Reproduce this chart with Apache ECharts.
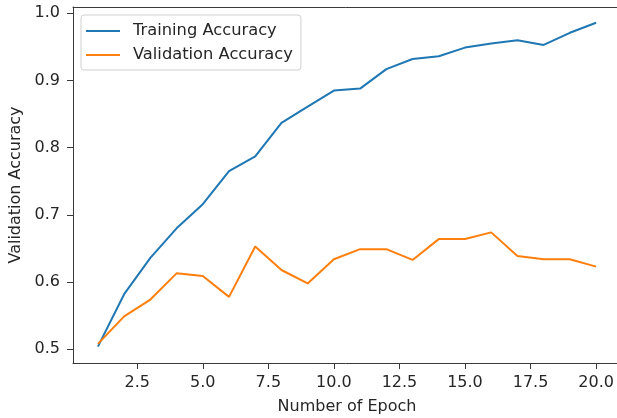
<!DOCTYPE html>
<html>
<head>
<meta charset="utf-8">
<script src="https://cdn.jsdelivr.net/npm/echarts@6/dist/echarts.min.js"></script>
<style>
  html, body { margin: 0; padding: 0; background: #fff; }
  #chart { width: 617px; height: 418px; }
</style>
</head>
<body>
<div id="chart"></div>
<script>
// Epoch numbers and per-epoch accuracies
const epochs = [1, 2, 3, 4, 5, 6, 7, 8, 9, 10, 11, 12, 13, 14, 15, 16, 17, 18, 19, 20];
const trainingAccuracy = [0.504, 0.582, 0.636, 0.680, 0.716, 0.765, 0.787, 0.837, 0.861, 0.885,
                          0.888, 0.917, 0.932, 0.936, 0.949, 0.955, 0.960, 0.953, 0.971, 0.986];
const validationAccuracy = [0.508, 0.549, 0.574, 0.613, 0.609, 0.578, 0.653, 0.618, 0.598, 0.634,
                            0.649, 0.649, 0.633, 0.664, 0.664, 0.674, 0.639, 0.634, 0.634, 0.623];
const xTicks = [2.5, 5.0, 7.5, 10.0, 12.5, 15.0, 17.5, 20.0];
const yTicks = [0.5, 0.6, 0.7, 0.8, 0.9, 1.0];

const font = 'DejaVu Sans';
const fontSize = 16;
const textColor = '#262626';
const spineColor = '#3a3a3a';

const chart = echarts.init(document.getElementById('chart'), null, { renderer: 'canvas' });

function pairs(ys) {
  return epochs.map((e, i) => [e, ys[i]]);
}

const spine = { show: true, onZero: false, lineStyle: { color: spineColor, width: 1 } };

chart.setOption({
  animation: false,
  backgroundColor: '#fff',
  grid: {
    left: 73, top: 7, width: 548, height: 356,
    outerBoundsMode: 'none',
    containLabel: false
  },
  legend: {
    left: 81, top: 15,
    orient: 'vertical',
    icon: 'rect',
    padding: [7, 8, 6, 5],
    itemWidth: 34, itemHeight: 2, itemGap: 6,
    backgroundColor: 'rgba(255,255,255,0.85)',
    borderColor: '#d0d0d0', borderWidth: 1, borderRadius: 3,
    textStyle: { fontFamily: font, fontSize: 16.3, lineHeight: 18, color: textColor, padding: [0, 0, 0, 8] },
    data: ['Training Accuracy', 'Validation Accuracy']
  },
  xAxis: [
    {
      type: 'value',
      position: 'bottom',
      min: 0.05, max: 20.95,
      name: 'Number of Epoch',
      nameLocation: 'middle', nameGap: 36,
      nameTextStyle: { fontFamily: font, fontSize: fontSize, color: textColor },
      axisLine: spine,
      splitLine: { show: false },
      axisTick: { show: true, length: 6, customValues: xTicks, lineStyle: { color: spineColor } },
      axisLabel: {
        customValues: xTicks, margin: 12,
        fontFamily: font, fontSize: fontSize, color: textColor,
        formatter: v => Number(v).toFixed(1)
      }
    },
    {
      // top spine only
      type: 'value',
      position: 'top',
      min: 0.05, max: 20.95,
      axisLine: spine,
      axisTick: { show: false },
      axisLabel: { show: false },
      splitLine: { show: false }
    }
  ],
  yAxis: {
    type: 'value',
    min: 0.4796, max: 1.0094,
    name: 'Validation Accuracy',
    nameLocation: 'middle', nameGap: 49, nameRotate: 90,
    nameTextStyle: { fontFamily: font, fontSize: fontSize, color: textColor },
    axisLine: spine,
    splitLine: { show: false },
    axisTick: { show: true, length: 6, customValues: yTicks, lineStyle: { color: spineColor } },
    axisLabel: {
      customValues: yTicks, margin: 13,
      fontFamily: font, fontSize: fontSize, color: textColor,
      formatter: v => Number(v).toFixed(1)
    }
  },
  series: [
    {
      name: 'Training Accuracy', type: 'line', data: pairs(trainingAccuracy),
      symbol: 'none', color: '#1f77b4', lineStyle: { width: 2, color: '#1f77b4' }
    },
    {
      name: 'Validation Accuracy', type: 'line', data: pairs(validationAccuracy),
      symbol: 'none', color: '#ff7f0e', lineStyle: { width: 2, color: '#ff7f0e' }
    }
  ]
});
</script>
</body>
</html>
